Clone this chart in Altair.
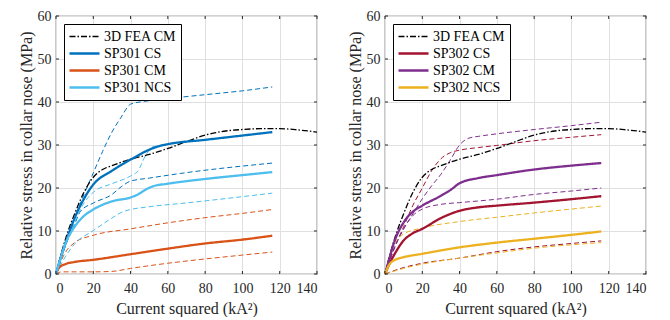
import altair as alt
import pandas as pd

FONT = "Liberation Serif"
TXT = "#262626"

x_ticks = [0, 20, 40, 60, 80, 100, 120, 140]
y_ticks = [0, 10, 20, 30, 40, 50, 60]
x_title = "Current squared (kA²)"
y_title = "Relative stress in collar nose (MPa)"

# 3D FEA (same on both panels)
fea_x = [0, 2, 5, 10, 15, 20, 25, 30, 35, 40, 50, 60, 70, 80, 90, 100, 110, 120, 130, 140]
fea_y = [0, 3.5, 8, 14, 19, 22.5, 24.3, 25.2, 26, 26.7, 27.8, 29.2, 30.8, 32.3, 33.2, 33.6, 33.8, 33.8, 33.5, 33.0]

# ---- Left panel (SP301)
cs301_x = [0, 2, 5, 10, 15, 20, 30, 40, 50, 55, 60, 80, 100, 116]
cs301_y = [0, 3, 7, 13, 17.5, 20.8, 24, 26.6, 28.9, 29.7, 30.2, 31.2, 32.2, 33]
cs301_up_x = [0, 5, 10, 15, 20, 25, 30, 35, 40, 45, 50, 60, 80, 100, 116]
cs301_up_y = [0, 7.5, 13, 18.5, 23.5, 28.5, 33, 36.5, 39.5, 40, 40.3, 40.8, 41.7, 42.6, 43.5]
cs301_lo_x = [0, 5, 10, 13, 20, 30, 35, 40, 50, 67, 116]
cs301_lo_y = [0, 6.5, 11.5, 14.5, 16.5, 18.5, 20.3, 21.6, 22.3, 23.4, 25.8]

cm301_x = [0, 1, 2, 5, 10, 20, 40, 60, 80, 100, 116]
cm301_y = [0, 1, 1.6, 2.3, 2.8, 3.3, 4.6, 5.9, 7.1, 8.0, 8.9]
cm301_up_x = [0, 5, 10, 20, 40, 60, 80, 100, 116]
cm301_up_y = [0, 5, 7.3, 9, 10.5, 11.9, 13.1, 14.1, 15]
cm301_lo_x = [0, 3, 10, 20, 30, 40, 60, 80, 100, 116]
cm301_lo_y = [0, 0.5, 0.5, 0.5, 0.6, 1.3, 2.5, 3.5, 4.4, 5.1]

ncs301_x = [0, 2, 5, 10, 15, 20, 30, 40, 44, 48, 52, 60, 80, 100, 116]
ncs301_y = [0, 3, 7, 11, 13.5, 15, 16.9, 17.8, 18.5, 19.6, 20.4, 21, 22.1, 23, 23.7]
ncs301_up_x = [0, 5, 10, 15, 20, 30, 40, 44, 48, 52, 56, 60, 80, 100, 116]
ncs301_up_y = [0, 6.5, 12, 16.5, 19, 21, 22.8, 24, 27.5, 29.6, 29.9, 30.2, 31.2, 32.2, 33]
ncs301_lo_x = [0, 5, 10, 20, 30, 36, 51, 67, 116]
ncs301_lo_y = [0, 4, 7, 10.1, 13, 14.5, 15.7, 16.4, 18.8]

# ---- Right panel (SP302)
cs302_x = [0, 2, 5, 10, 15, 20, 30, 40, 50, 60, 80, 100, 116]
cs302_y = [0, 2, 4.5, 7.8, 9.5, 10.5, 13, 14.7, 15.5, 15.9, 16.6, 17.4, 18.1]
cs302_up_x = [0, 5, 10, 15, 20, 25, 30, 35, 40, 50, 60, 80, 100, 116]
cs302_up_y = [0, 6, 11, 16, 20, 24, 26.8, 28.2, 28.8, 29.4, 29.9, 31, 31.8, 32.4]
cs302_lo_x = [0, 10, 20, 40, 60, 80, 100, 116]
cs302_lo_y = [0, 1.5, 2.5, 3.7, 5.2, 6.3, 7.1, 7.7]

cm302_x = [0, 2, 5, 10, 15, 20, 30, 35, 40, 50, 60, 80, 100, 116]
cm302_y = [0, 3, 7.5, 12, 14.5, 15.9, 18.2, 19.5, 21.1, 22.3, 23, 24.3, 25.2, 25.8]
cm302_up_x = [0, 5, 10, 15, 20, 25, 30, 35, 40, 45, 50, 60, 80, 100, 116]
cm302_up_y = [0, 6, 10.5, 14, 17.5, 20.5, 23.2, 26.5, 30, 31.6, 32, 32.6, 33.6, 34.5, 35.3]
cm302_lo_x = [0, 5, 10, 15, 20, 30, 40, 60, 80, 100, 116]
cm302_lo_y = [0, 6, 10.5, 13.6, 15.1, 16.2, 16.6, 17.4, 18.5, 19.3, 20]

ncs302_x = [0, 2, 5, 10, 20, 40, 60, 80, 100, 116]
ncs302_y = [0, 2, 3.2, 3.9, 4.7, 6.2, 7.3, 8.2, 9.1, 9.9]
ncs302_up_x = [0, 5, 10, 20, 40, 60, 80, 100, 116]
ncs302_up_y = [0, 7, 9.3, 10.7, 12.2, 13.2, 14.2, 15.1, 15.8]
ncs302_lo_x = [0, 10, 20, 40, 60, 80, 100, 116]
ncs302_lo_y = [0, 1.3, 2.3, 3.7, 4.9, 6.0, 6.8, 7.3]

names_301 = ["3D FEA CM", "SP301 CS", "SP301 CM", "SP301 NCS"]
colors_301 = ["#000000", "#0072BD", "#D95319", "#4DBEEE"]
names_302 = ["3D FEA CM", "SP302 CS", "SP302 CM", "SP302 NCS"]
colors_302 = ["#000000", "#A2142F", "#7E2F8E", "#EDB120"]

rows = []


def add(panel, series, kind, xs, ys):
    for i, (a, b) in enumerate(zip(xs, ys)):
        rows.append({"panel": panel, "series": series, "kind": kind, "x": a, "y": b, "o": i})


for p in ("L", "R"):
    add(p, "3D FEA CM", "main", fea_x, fea_y)
add("L", "SP301 CS", "main", cs301_x, cs301_y)
add("L", "SP301 CS", "up", cs301_up_x, cs301_up_y)
add("L", "SP301 CS", "lo", cs301_lo_x, cs301_lo_y)
add("L", "SP301 CM", "main", cm301_x, cm301_y)
add("L", "SP301 CM", "up", cm301_up_x, cm301_up_y)
add("L", "SP301 CM", "lo", cm301_lo_x, cm301_lo_y)
add("L", "SP301 NCS", "main", ncs301_x, ncs301_y)
add("L", "SP301 NCS", "up", ncs301_up_x, ncs301_up_y)
add("L", "SP301 NCS", "lo", ncs301_lo_x, ncs301_lo_y)
add("R", "SP302 CS", "main", cs302_x, cs302_y)
add("R", "SP302 CS", "up", cs302_up_x, cs302_up_y)
add("R", "SP302 CS", "lo", cs302_lo_x, cs302_lo_y)
add("R", "SP302 CM", "main", cm302_x, cm302_y)
add("R", "SP302 CM", "up", cm302_up_x, cm302_up_y)
add("R", "SP302 CM", "lo", cm302_lo_x, cm302_lo_y)
add("R", "SP302 NCS", "main", ncs302_x, ncs302_y)
add("R", "SP302 NCS", "up", ncs302_up_x, ncs302_up_y)
add("R", "SP302 NCS", "lo", ncs302_lo_x, ncs302_lo_y)
df = pd.DataFrame(rows)

W, H = 261, 258
TICK = 3


def panel(pid, names, colors):
    d = df[df.panel == pid]
    main = d[d.kind == "main"]
    dash = d[d.kind != "main"]
    xs = alt.Scale(domain=[0, 140], nice=False, zero=False)
    ys = alt.Scale(domain=[0, 60], nice=False)
    xax = alt.Axis(values=x_ticks, title=x_title, labelPadding=7, titlePadding=5)
    yax = alt.Axis(values=y_ticks, title=y_title, labelPadding=5, titlePadding=3)
    X = alt.X("x:Q", scale=xs, axis=xax)
    Y = alt.Y("y:Q", scale=ys, axis=yax)
    cscale = alt.Scale(domain=names, range=colors)
    leg = alt.Legend(
        title=None, orient="none", legendX=8, legendY=8,
        strokeColor="#000000", fillColor="#ffffff", padding=4,
        symbolType="stroke", symbolSize=900, clipHeight=17, rowPadding=0,
        labelFont=FONT, labelFontSize=14, labelColor="#000000", labelOffset=3,
    )
    solid = alt.Chart(main).mark_line(interpolate="monotone").encode(
        x=X, y=Y, order="o:Q",
        color=alt.Color("series:N", scale=cscale, legend=leg),
        strokeDash=alt.StrokeDash(
            "series:N",
            scale=alt.Scale(domain=names, range=[[6, 2, 1.5, 2], [1, 0], [1, 0], [1, 0]]),
            legend=leg,
        ),
        strokeWidth=alt.StrokeWidth(
            "series:N",
            scale=alt.Scale(type="ordinal", domain=names, range=[1.3, 2.3, 2.3, 2.3]),
            legend=leg,
        ),
    )
    dashed = alt.Chart(dash).mark_line(strokeWidth=1, strokeDash=[5, 3], interpolate="monotone").encode(
        x=X, y=Y, order="o:Q",
        color=alt.Color("series:N", scale=cscale, legend=leg),
        detail="kind:N",
    )
    tx = pd.DataFrame({"x": x_ticks})
    ty = pd.DataFrame({"y": y_ticks})
    tb = alt.Chart(tx).mark_rule(color=TXT, strokeWidth=1).encode(x=X, y=alt.value(H), y2=alt.value(H - TICK))
    tt = alt.Chart(tx).mark_rule(color=TXT, strokeWidth=1).encode(x=X, y=alt.value(0), y2=alt.value(TICK))
    tl = alt.Chart(ty).mark_rule(color=TXT, strokeWidth=1).encode(y=Y, x=alt.value(0), x2=alt.value(TICK))
    tr = alt.Chart(ty).mark_rule(color=TXT, strokeWidth=1).encode(y=Y, x=alt.value(W), x2=alt.value(W - TICK))
    return alt.layer(dashed, solid, tb, tt, tl, tr).properties(width=W, height=H)


left = panel("L", names_301, colors_301)
right = panel("R", names_302, colors_302)

chart = alt.hconcat(left, right, spacing=25).resolve_scale(
    color="independent", strokeDash="independent", strokeWidth="independent"
).resolve_legend(
    color="independent", strokeDash="independent", strokeWidth="independent"
).properties(
    padding={"left": 9, "top": 0, "right": 0, "bottom": 0},
    background="white",
).configure_view(
    stroke="#4d4d4d", strokeWidth=1.2
).configure_axis(
    labelFont=FONT, labelFontSize=14, labelColor=TXT,
    titleFont=FONT, titleFontSize=16, titleFontWeight="normal", titleColor=TXT,
    grid=True, gridColor="#e0e0e0", gridWidth=1,
    domain=False, ticks=False, tickSize=0,
)

chart.save("out.html", embed_options={"renderer": "svg", "actions": False})
